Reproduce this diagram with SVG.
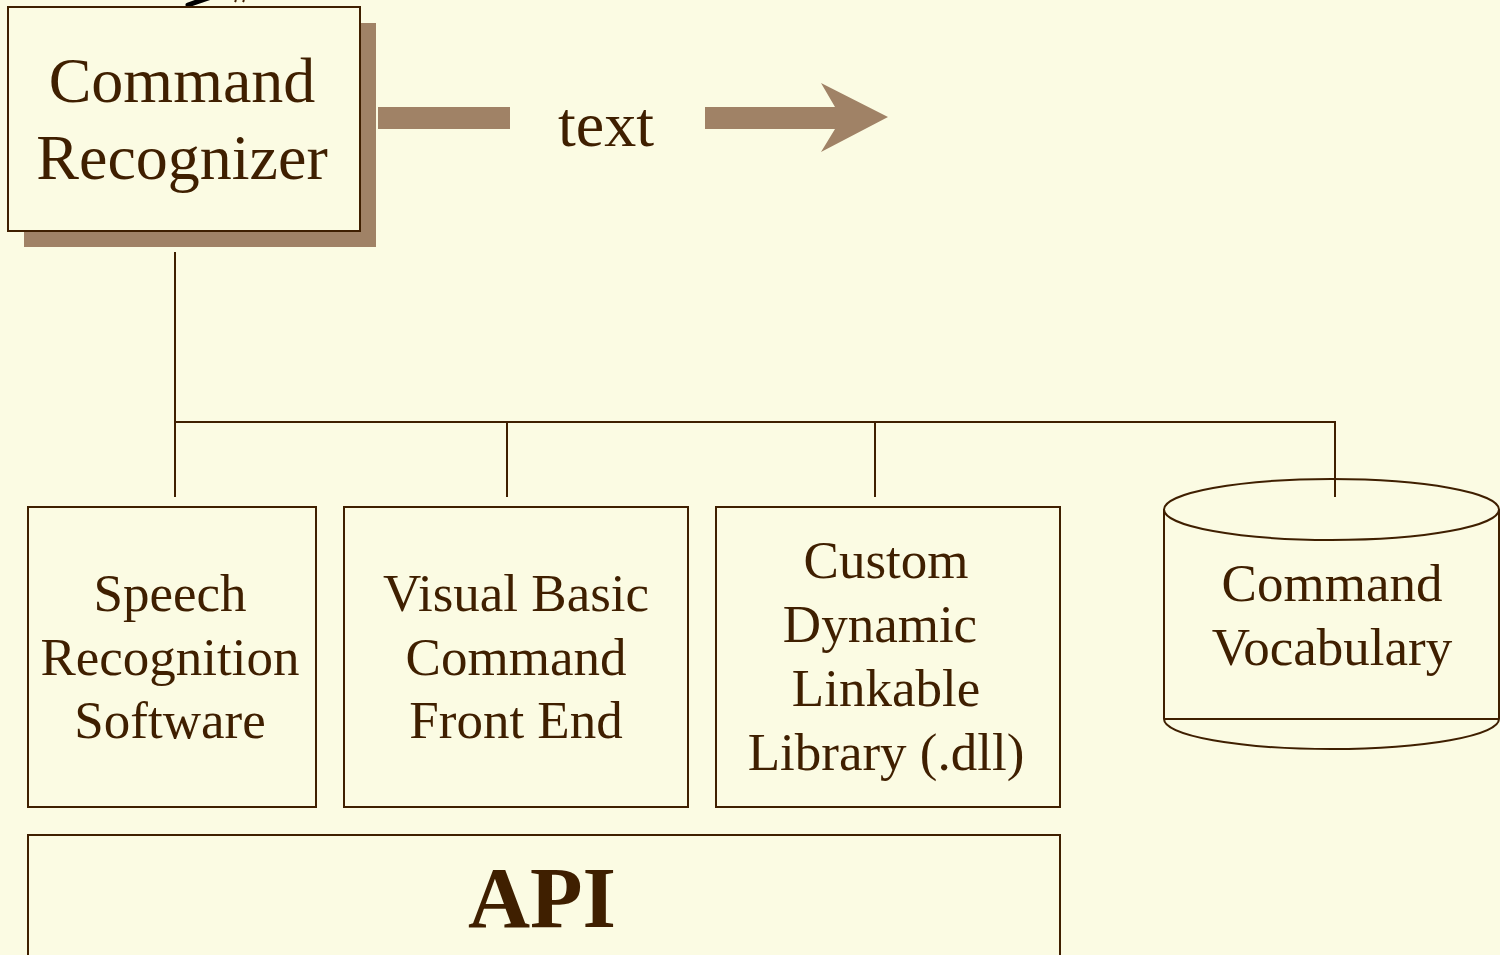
<svg xmlns="http://www.w3.org/2000/svg" width="1500" height="955" viewBox="0 0 1500 955">
<style>
.box{fill:#FBFBE3;stroke:#3F1F00;stroke-width:2}
.t{font-family:"Liberation Serif","Times New Roman",serif;fill:#3F1F00;text-anchor:middle}
.t64{font-size:64px}
.t53{font-size:53px}
.conn{stroke:#3F1F00;stroke-width:2;fill:none}
.sh{fill:#A08266}
</style>
<rect x="0" y="0" width="1500" height="955" fill="#FBFBE3"/>
<g id="offscreen-arrow">
<path d="M188 5 L214 -4" stroke="#000" stroke-width="5" stroke-linecap="round"/>
<path d="M236 0 L235 2 M244 0 L243 2" stroke="#3F1F00" stroke-width="2"/>
</g>
<g id="connectors">
<line class="conn" x1="175" y1="252" x2="175" y2="497"/>
<polyline class="conn" points="175,422 1335,422 1335,497"/>
<line class="conn" x1="507" y1="422" x2="507" y2="497"/>
<line class="conn" x1="875" y1="422" x2="875" y2="497"/>
</g>
<g id="command-recognizer">
<rect class="sh" x="24" y="23" width="352" height="224"/>
<rect class="box" x="8" y="7" width="352" height="224"/>
<text class="t t64" x="182" y="102">Command</text>
<text class="t t64" x="182" y="179">Recognizer</text>
</g>
<g id="text-arrow">
<rect class="sh" x="378" y="107" width="132" height="22"/>
<text class="t t64" x="606" y="146">text</text>
<polygon class="sh" points="705,107 835,107 821,83 888,117 821,152 835,129 705,129"/>
</g>
<g id="speech-recognition">
<rect class="box" x="28" y="507" width="288" height="300"/>
<text class="t t53" x="170" y="611">Speech</text>
<text class="t t53" x="170" y="675">Recognition</text>
<text class="t t53" x="170" y="738">Software</text>
</g>
<g id="vb-front-end">
<rect class="box" x="344" y="507" width="344" height="300"/>
<text class="t t53" x="516" y="611">Visual Basic</text>
<text class="t t53" x="516" y="675">Command</text>
<text class="t t53" x="516" y="738">Front End</text>
</g>
<g id="custom-dll">
<rect class="box" x="716" y="507" width="344" height="300"/>
<text class="t t53" x="886" y="578">Custom</text>
<text class="t t53" x="880" y="642">Dynamic</text>
<text class="t t53" x="886" y="706">Linkable</text>
<text class="t t53" x="886" y="770">Library (.dll)</text>
</g>
<g id="command-vocabulary">
<path class="box" d="M1164 509.5 L1164 719 A167.5 30 0 0 0 1499 719 L1499 509.5"/>
<line class="conn" x1="1164" y1="719" x2="1499" y2="719"/>
<ellipse class="box" cx="1331.5" cy="509.5" rx="167.5" ry="30.5"/>
<line class="conn" x1="1335" y1="479" x2="1335" y2="497"/>
<text class="t t53" x="1332" y="601">Command</text>
<text class="t t53" x="1332" y="665">Vocabulary</text>
</g>
<g id="api">
<rect class="box" x="28" y="835" width="1032" height="140"/>
<text class="t" x="542" y="927" font-size="86" font-weight="bold">API</text>
</g>
</svg>
